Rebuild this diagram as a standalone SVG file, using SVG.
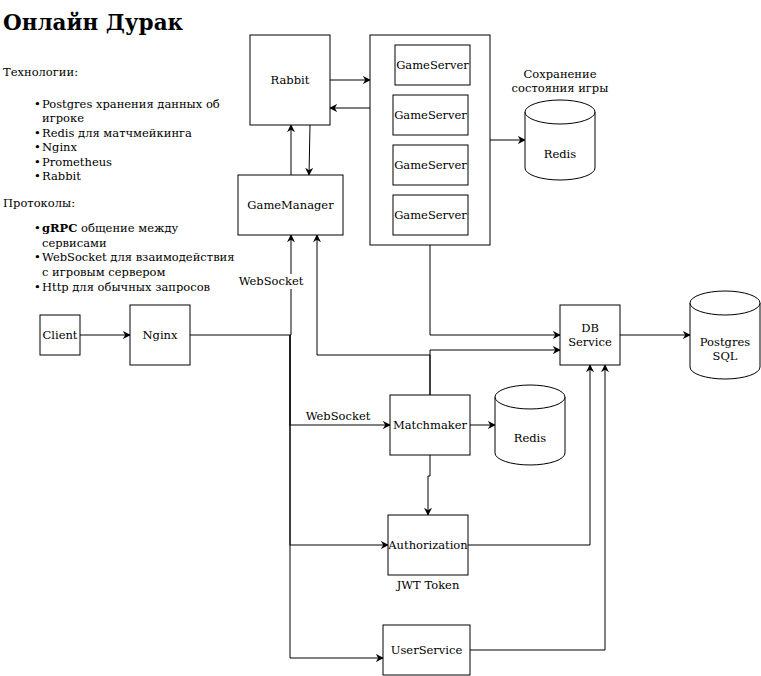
<svg xmlns="http://www.w3.org/2000/svg" width="761" height="676" viewBox="0 0 761 676">
<style>
text{font-family:"DejaVu Serif","Liberation Serif",serif;font-size:11.5px;fill:#000}
.c{text-anchor:middle;dominant-baseline:central}
.box{fill:#fff;stroke:#000;stroke-width:1}
.ln{fill:none;stroke:#000;stroke-width:1;marker-end:url(#ah)}
.lbl{fill:#fff}
</style>
<defs>
<marker id="ah" viewBox="0 0 10 10" refX="9" refY="5" markerWidth="8" markerHeight="8" orient="auto" markerUnits="userSpaceOnUse">
<path d="M0,0 L10,5 L0,10 L3,5 z" fill="#000"/>
</marker>
</defs>
<rect width="761" height="676" fill="#fff"/>
<g id="notes">
<text x="3" y="30" style="font-size:21.5px;font-weight:bold">Онлайн Дурак</text>
<text x="3" y="76">Технологии:</text>
<text x="34" y="108">•</text><text x="42" y="108">Postgres хранения данных об</text>
<text x="42" y="122">игроке</text>
<text x="34" y="137">•</text><text x="42" y="137">Redis для матчмейкинга</text>
<text x="34" y="151">•</text><text x="42" y="151">Nginx</text>
<text x="34" y="166">•</text><text x="42" y="166">Prometheus</text>
<text x="34" y="180">•</text><text x="42" y="180">Rabbit</text>
<text x="3" y="207">Протоколы:</text>
<text x="34" y="232">•</text><text x="42" y="232"><tspan font-weight="bold">gRPC</tspan> общение между</text>
<text x="42" y="247">сервисами</text>
<text x="34" y="261">•</text><text x="42" y="261">WebSocket для взаимодействия</text>
<text x="42" y="276">с игровым сервером</text>
<text x="34" y="291">•</text><text x="42" y="291">Http для обычных запросов</text>
</g>
<g id="connectors">
<path class="ln" d="M330,80 L370,80"/>
<path class="ln" d="M370,108 L330,108"/>
<path class="ln" d="M291,175 L291,125"/>
<path class="ln" d="M310,125 L309,175"/>
<path class="ln" d="M490,140 L525,140"/>
<path class="ln" d="M430,245 L430,335 L560,335"/>
<path class="ln" d="M430,395 L430,350 L560,350"/>
<path class="ln" d="M430,395 L430,355 L317,355 L317,235"/>
<path class="ln" d="M620,335 L690,335"/>
<path class="ln" d="M80,335 L130,335"/>
<path class="ln" d="M190,335 L291,335 L291,235"/>
<path class="ln" d="M290,335 L290,425 L390,425"/>
<path class="ln" d="M290,335 L290,545 L388,545"/>
<path class="ln" d="M290,335 L290,658 L383,658"/>
<path class="ln" d="M470,425 L495,425"/>
<path class="ln" d="M430,455 L430,476 L428,476 L428,515"/>
<path class="ln" d="M468,545 L590,545 L590,365"/>
<path class="ln" d="M470,650 L605,650 L605,365"/>
<rect class="lbl" x="240" y="274" width="62" height="15"/>
<text class="c" x="271" y="281">WebSocket</text>
<text class="c" x="338" y="416">WebSocket</text>
</g>
<g id="rabbit"><rect class="box" x="250" y="35" width="80" height="90"/><text class="c" x="290" y="80">Rabbit</text></g>
<g id="gameservers"><rect class="box" x="370" y="35" width="120" height="210"/></g>
<g id="gs1"><rect class="box" x="395" y="45" width="75" height="40"/><text class="c" x="432.5" y="65">GameServer</text></g>
<g id="gs2"><rect class="box" x="393" y="95" width="75" height="40"/><text class="c" x="430.5" y="115">GameServer</text></g>
<g id="gs3"><rect class="box" x="393" y="145" width="75" height="40"/><text class="c" x="430.5" y="165">GameServer</text></g>
<g id="gs4"><rect class="box" x="393" y="195" width="75" height="40"/><text class="c" x="430.5" y="215">GameServer</text></g>
<g id="gamemanager"><rect class="box" x="238" y="175" width="105" height="60"/><text class="c" x="290.5" y="205">GameManager</text></g>
<g id="redis-game">
<text class="c" x="560" y="74">Сохранение</text>
<text class="c" x="560" y="88">состояния игры</text>
<path class="box" d="M525,112 A35,12 0 0 1 595,112 L595,168 A35,12 0 0 1 525,168 Z"/>
<path class="box" d="M525,112 A35,12 0 0 0 595,112" fill="none"/>
<text class="c" x="560" y="154">Redis</text>
</g>
<g id="client"><rect class="box" x="40" y="315" width="40" height="40"/><text class="c" x="60" y="335">Client</text></g>
<g id="nginx"><rect class="box" x="130" y="305" width="60" height="60"/><text class="c" x="160" y="335">Nginx</text></g>
<g id="dbservice"><rect class="box" x="560" y="305" width="60" height="60"/><text class="c" x="590" y="328">DB</text><text class="c" x="590" y="342">Service</text></g>
<g id="postgres">
<path class="box" d="M690,303 A35,12 0 0 1 760,303 L760,367 A35,12 0 0 1 690,367 Z"/>
<path class="box" d="M690,303 A35,12 0 0 0 760,303" fill="none"/>
<text class="c" x="725" y="342">Postgres</text>
<text class="c" x="725" y="356">SQL</text>
</g>
<g id="matchmaker"><rect class="box" x="390" y="395" width="80" height="60"/><text class="c" x="430" y="425">Matchmaker</text></g>
<g id="redis-mm">
<path class="box" d="M495,397 A35,12 0 0 1 565,397 L565,453 A35,12 0 0 1 495,453 Z"/>
<path class="box" d="M495,397 A35,12 0 0 0 565,397" fill="none"/>
<text class="c" x="530" y="438">Redis</text>
</g>
<g id="authorization"><rect class="box" x="388" y="515" width="80" height="60"/><text class="c" x="428" y="545">Authorization</text><text class="c" x="428" y="585">JWT Token</text></g>
<g id="userservice"><rect class="box" x="383" y="625" width="87" height="50"/><text class="c" x="426.5" y="650">UserService</text></g>
</svg>
